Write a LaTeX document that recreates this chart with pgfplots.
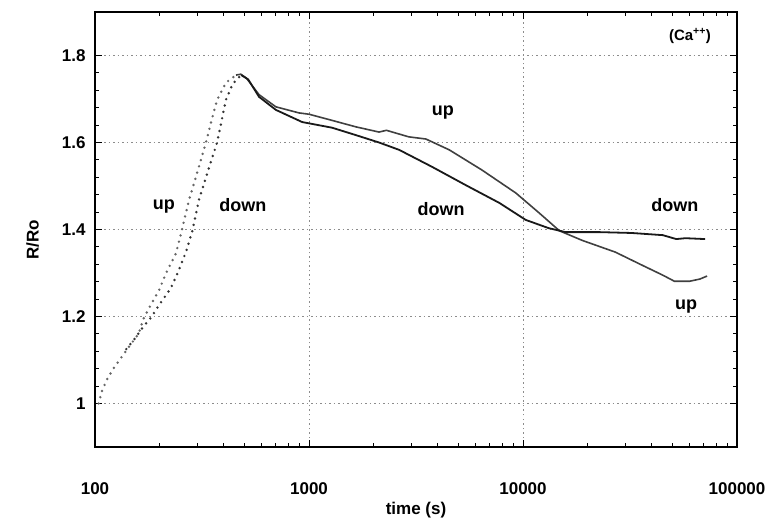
\documentclass[border=0pt]{standalone}
\usepackage{fontspec}
\setmainfont{Liberation Sans}
\usepackage{pgfplots}
\pgfplotsset{compat=1.18}
\begin{document}
\begin{tikzpicture}[x=1pt,y=1pt]
\useasboundingbox (0,0) rectangle (768,522);
\begin{axis}[
  at={(95pt,75pt)}, anchor=south west,
  scale only axis, width=642pt, height=435pt,
  xmode=log, xmin=100, xmax=100000, ymin=0.9, ymax=1.9,
  xtick={100,1000,10000,100000}, xticklabels={100,1000,10000,100000},
  minor xtick={200,300,400,500,600,700,800,900,2000,3000,4000,5000,6000,7000,8000,9000,20000,30000,40000,50000,60000,70000,80000,90000},
  ytick={1,1.2,1.4,1.6,1.8}, yticklabels={1,1.2,1.4,1.6,1.8},
  minor y tick num=4,
  tick align=inside, major tick length=7pt, minor tick length=4pt,
  tick style={black, line width=0.8pt},
  axis line style={line width=2.4pt},
  xmajorgrids, ymajorgrids,
  major grid style={black!45, dash pattern=on 1.5pt off 3pt, line width=1pt},
  ticklabel style={font=\fontsize{17}{17}\selectfont\bfseries},
  xticklabel style={yshift=-32pt},
  yticklabel style={xshift=-6pt},
  xlabel={time (s)}, ylabel={R/Ro},
  label style={font=\fontsize{17}{17}\selectfont\bfseries},
  xlabel style={at={(axis description cs:0.5,-0.145)}, anchor=center},
  ylabel style={at={(axis description cs:-0.097,0.476)}, anchor=center},
  clip=false,
]
% rising phase, sparse sampling (dotted)
\addplot[black!60, line width=2.7pt, line cap=round, dash pattern=on 0pt off 6.5pt] coordinates {
(104,1.00) (108,1.03) (115,1.06) (123,1.083) (132,1.104) (140,1.122) (147,1.136)
(160,1.161) (169,1.196) (182,1.226) (199,1.26) (215,1.30) (239,1.345)
(255,1.40) (275,1.468) (300,1.53) (330,1.60) (350,1.65) (372,1.698) (410,1.738) (456,1.755)};
\addplot[black!80, line width=2.7pt, line cap=round, dash pattern=on 0pt off 6.5pt] coordinates {
(140,1.125) (155,1.152) (169,1.178) (183,1.198) (199,1.226) (226,1.265) (241,1.295)
(266,1.348) (284,1.394) (306,1.468) (340,1.54) (372,1.60) (409,1.698) (440,1.735) (482,1.755)};
% relaxation, dense sampling (solid): up
\addplot[black!75, line width=1.6pt] coordinates {
(456,1.755) (480,1.757) (510,1.748) (584,1.71) (700,1.682) (898,1.668) (1000,1.665)
(1300,1.65) (1655,1.636) (2124,1.624) (2300,1.628) (2924,1.613) (3518,1.608)
(4525,1.583) (6415,1.537) (9250,1.484) (11900,1.438) (14800,1.397) (18900,1.375)
(27000,1.348) (36000,1.318) (45000,1.295) (51000,1.281) (60000,1.281) (67000,1.286) (72500,1.293)};
% relaxation, dense sampling (solid): down
\addplot[black!90, line width=1.8pt] coordinates {
(482,1.755) (520,1.745) (584,1.705) (700,1.675) (929,1.647) (1282,1.634) (1655,1.617)
(2124,1.60) (2640,1.583) (3760,1.544) (5400,1.502) (7760,1.461) (10300,1.422)
(13200,1.403) (15800,1.394) (22600,1.394) (32200,1.392) (45000,1.387) (52000,1.378)
(57500,1.38) (71000,1.378)};
% annotations
\begin{scope}[every node/.style={font=\fontsize{18}{18}\selectfont\bfseries}]
\node at (axis cs:210,1.452) {up};
\node at (axis cs:491,1.456) {down};
\node at (axis cs:4227,1.670) {up};
\node at (axis cs:4140,1.447) {down};
\node at (axis cs:51300,1.456) {down};
\node at (axis cs:57800,1.222) {up};
\end{scope}
\node[font=\fontsize{15}{15}\selectfont\bfseries] at (axis cs:60300,1.845) {(Ca\textsuperscript{++})};
\end{axis}
\end{tikzpicture}
\end{document}
